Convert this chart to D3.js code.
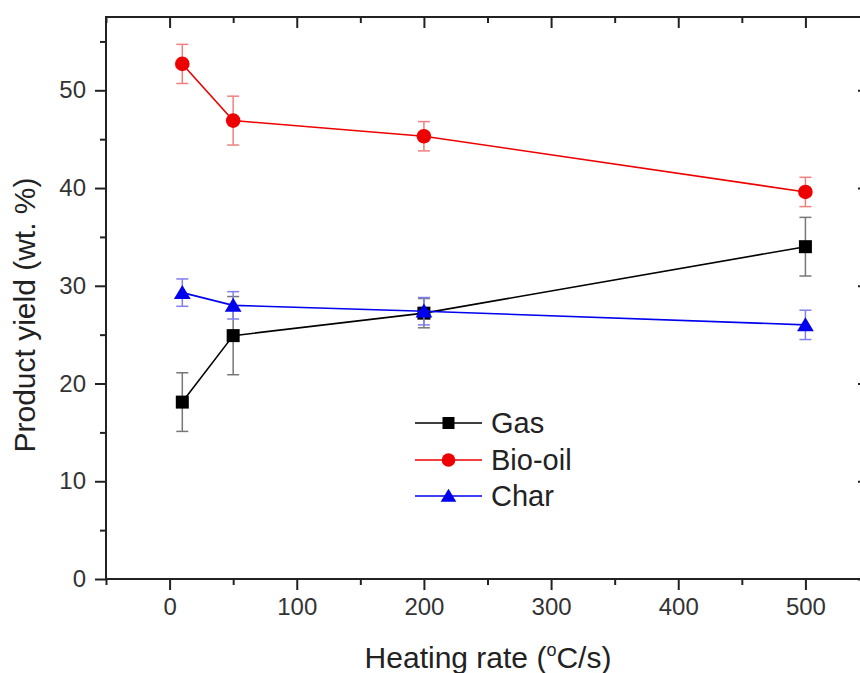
<!DOCTYPE html>
<html>
<head>
<meta charset="utf-8">
<script src="https://cdn.jsdelivr.net/npm/d3@7/dist/d3.min.js"></script>
<style>
body{margin:0;background:#fff;}
svg{display:block;font-family:"Liberation Sans",Arial,sans-serif;}
</style>
</head>
<body>
<svg id="chart" width="860" height="673"></svg>
<script>
const heatingRates = [10, 50, 200, 500];
const gasYield = [18.1, 24.9, 27.2, 34.0];
const gasErr = [3.0, 4.0, 1.5, 3.0];
const bioOilYield = [52.7, 46.9, 45.3, 39.6];
const bioOilErr = [2.0, 2.5, 1.5, 1.5];
const charYield = [29.3, 28.0, 27.4, 26.0];
const charErr = [1.4, 1.4, 1.4, 1.5];
const seriesNames = ["Gas", "Bio-oil", "Char"];
const xMajorTicks = [0, 100, 200, 300, 400, 500];
const xMinorTicks = [-50, 50, 150, 250, 350, 450, 550];
const yMajorTicks = [0, 10, 20, 30, 40, 50];
const yMinorTicks = [5, 15, 25, 35, 45, 55];

const series = [
  {name: seriesNames[0], y: gasYield, e: gasErr, color: "#000000", errColor: "#777777", shape: "square"},
  {name: seriesNames[1], y: bioOilYield, e: bioOilErr, color: "#ee0000", errColor: "#f08080", shape: "circle"},
  {name: seriesNames[2], y: charYield, e: charErr, color: "#0000ee", errColor: "#7f7ff0", shape: "triangle"}
];

const svg = d3.select("#chart");
const pLeft = 106, pRight = 869, pTop = 17, pBottom = 579;
const x = d3.scaleLinear().domain([-50, 550]).range([pLeft, pRight]);
const y = d3.scaleLinear().domain([0, 57.5]).range([pBottom, pTop]);

const axisColor = "#222";
const fontTick = 24;

function styleAxis(g){
  g.selectAll("path.domain").remove();
  g.selectAll("line").attr("stroke", axisColor).attr("stroke-width", 2);
  g.selectAll("text").attr("fill", "#333").style("font-size", fontTick + "px");
}

// Bottom axis
svg.append("g").attr("transform", `translate(0,${pBottom})`)
  .call(d3.axisBottom(x).tickValues(xMajorTicks).tickSize(11).tickPadding(8).tickFormat(d3.format("d")))
  .call(styleAxis);
svg.append("g").attr("transform", `translate(0,${pBottom})`)
  .call(d3.axisBottom(x).tickValues(xMinorTicks).tickSize(6).tickFormat(""))
  .call(styleAxis);
// Top axis (inward)
svg.append("g").attr("transform", `translate(0,${pTop})`)
  .call(d3.axisBottom(x).tickValues(xMajorTicks).tickSize(11).tickFormat(""))
  .call(styleAxis);
svg.append("g").attr("transform", `translate(0,${pTop})`)
  .call(d3.axisBottom(x).tickValues(xMinorTicks).tickSize(6).tickFormat(""))
  .call(styleAxis);
// Left axis
svg.append("g").attr("transform", `translate(${pLeft},0)`)
  .call(d3.axisLeft(y).tickValues(yMajorTicks).tickSize(11).tickPadding(9).tickFormat(d3.format("d")))
  .call(styleAxis);
svg.append("g").attr("transform", `translate(${pLeft},0)`)
  .call(d3.axisLeft(y).tickValues(yMinorTicks).tickSize(6).tickFormat(""))
  .call(styleAxis);
// Right axis (inward)
svg.append("g").attr("transform", `translate(${pRight},0)`)
  .call(d3.axisLeft(y).tickValues(yMajorTicks).tickSize(11).tickFormat(""))
  .call(styleAxis);
svg.append("g").attr("transform", `translate(${pRight},0)`)
  .call(d3.axisLeft(y).tickValues(yMinorTicks).tickSize(6).tickFormat(""))
  .call(styleAxis);

// Frame
svg.append("rect").attr("x", pLeft).attr("y", pTop)
  .attr("width", pRight - pLeft).attr("height", pBottom - pTop)
  .attr("fill", "none").attr("stroke", axisColor).attr("stroke-width", 2);

// Series
const line = d3.line().x(d => x(d.x)).y(d => y(d.y));
const cap = 6;

function drawMarker(g, shape, color, size){
  if (shape === "square") {
    const s2 = size - 1;
    g.append("rect").attr("x", -s2/2).attr("y", -s2/2).attr("width", s2).attr("height", s2).attr("fill", color);
  } else if (shape === "circle") {
    g.append("circle").attr("r", size/2 + 0.3).attr("fill", color);
  } else {
    const h = size;
    g.append("path").attr("d", `M0,${-h*0.55} L${h*0.6},${h*0.45} L${-h*0.6},${h*0.45} Z`).attr("fill", color);
  }
}

series.forEach(s => {
  const pts = heatingRates.map((r, i) => ({x: r, y: s.y[i], e: s.e[i]}));
  const g = svg.append("g");
  pts.forEach(p => {
    const eb = g.append("g").attr("stroke", s.errColor).attr("stroke-width", 1.5);
    eb.append("line").attr("x1", x(p.x)).attr("x2", x(p.x)).attr("y1", y(p.y - p.e)).attr("y2", y(p.y + p.e));
    eb.append("line").attr("x1", x(p.x) - cap).attr("x2", x(p.x) + cap).attr("y1", y(p.y + p.e)).attr("y2", y(p.y + p.e));
    eb.append("line").attr("x1", x(p.x) - cap).attr("x2", x(p.x) + cap).attr("y1", y(p.y - p.e)).attr("y2", y(p.y - p.e));
  });
  g.append("path").datum(pts).attr("d", line).attr("fill", "none").attr("stroke", s.color).attr("stroke-width", 1.6);
  pts.forEach(p => {
    const m = g.append("g").attr("transform", `translate(${x(p.x)},${y(p.y)})`);
    drawMarker(m, s.shape, s.color, 14);
  });
});

// Legend
const legX1 = 415, legX2 = 482, legTextX = 491;
const legY = [423, 460, 496];
series.forEach((s, i) => {
  const g = svg.append("g");
  g.append("line").attr("x1", legX1).attr("x2", legX2).attr("y1", legY[i]).attr("y2", legY[i])
    .attr("stroke", s.color).attr("stroke-width", 1.6);
  const m = g.append("g").attr("transform", `translate(${(legX1 + legX2)/2},${legY[i]})`);
  drawMarker(m, s.shape, s.color, 13);
  g.append("text").attr("x", legTextX).attr("y", legY[i]).attr("dy", "0.36em")
    .attr("fill", "#222").style("font-size", "29px").text(s.name);
});

// Axis titles
const xt = svg.append("text").attr("x", 488).attr("y", 668).attr("text-anchor", "middle")
  .attr("fill", "#222").style("font-size", "30px");
xt.append("tspan").text("Heating rate (");
xt.append("tspan").attr("dy", -12).style("font-size", "18px").text("o");
xt.append("tspan").attr("dy", 12).text("C/s)");

svg.append("text").attr("transform", "translate(35,315) rotate(-90)").attr("text-anchor", "middle")
  .attr("fill", "#222").style("font-size", "30px").text("Product yield (wt. %)");
</script>
</body>
</html>
